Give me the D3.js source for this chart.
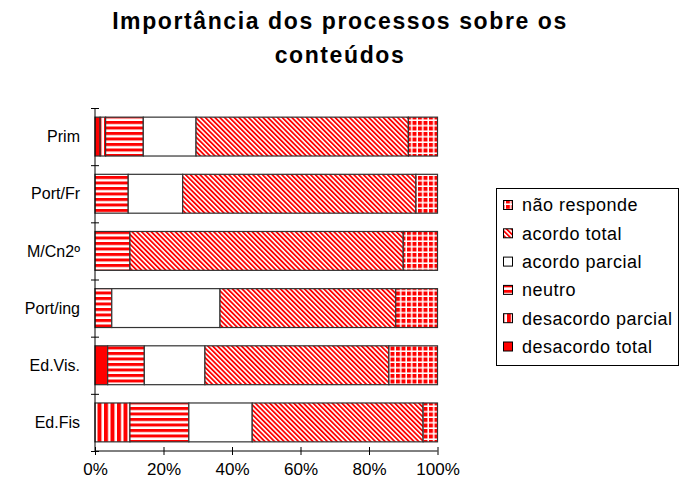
<!DOCTYPE html>
<html>
<head>
<meta charset="utf-8">
<script src="https://cdn.jsdelivr.net/npm/d3@7/dist/d3.min.js"></script>
<style>
  body { margin: 0; background: #fff; }
  svg { display: block; font-family: "Liberation Sans", Arial, sans-serif; }
</style>
</head>
<body>
<svg id="chart" width="680" height="484"></svg>
<script>
// categories, top to bottom
var categories = ["Prim", "Port/Fr", "M/Cn2º", "Port/ing", "Ed.Vis.", "Ed.Fis"];

// series in stacking order (left to right)
var seriesNames = ["desacordo total", "desacordo parcial", "neutro", "acordo parcial", "acordo total", "não responde"];

// percentage values per category, same order as seriesNames
var desacordoTotal   = [1.5, 0, 0, 0, 3.7, 0];
var desacordoParcial = [1.6, 0, 0, 0, 0, 10.2];
var neutro           = [11, 9.7, 10.2, 4.9, 10.7, 17.2];
var acordoParcial    = [15.4, 15.9, 0, 31.6, 17.7, 18.5];
var acordoTotal      = [62, 68.1, 79.8, 51.3, 53.7, 49.9];
var naoResponde      = [8.5, 6.3, 10, 12.2, 14.2, 4.2];

var xTicks = [0, 0.2, 0.4, 0.6, 0.8, 1];
var title = ["Importância dos processos sobre os", "conteúdos"];

var seriesValues = [desacordoTotal, desacordoParcial, neutro, acordoParcial, acordoTotal, naoResponde];
var patternIds = ["p-solid", "p-vert", "p-horiz", "p-white", "p-diag", "p-grid"];

// build table for d3.stack
var table = categories.map(function (c, i) {
  var row = { cat: c };
  seriesNames.forEach(function (s, j) { row[s] = seriesValues[j][i]; });
  return row;
});

var stacked = d3.stack().keys(seriesNames).offset(d3.stackOffsetExpand)(table);

var svg = d3.select("#chart");

// patterns
var defs = svg.append("defs");

var p = defs.append("pattern").attr("id", "p-solid").attr("patternUnits", "userSpaceOnUse")
  .attr("width", 4).attr("height", 4);
p.append("rect").attr("width", 4).attr("height", 4).attr("fill", "#ff0000");

p = defs.append("pattern").attr("id", "p-white").attr("patternUnits", "userSpaceOnUse")
  .attr("width", 4).attr("height", 4);
p.append("rect").attr("width", 4).attr("height", 4).attr("fill", "#ffffff");

p = defs.append("pattern").attr("id", "p-vert").attr("patternUnits", "userSpaceOnUse")
  .attr("width", 6.5).attr("height", 6);
p.append("rect").attr("width", 6.5).attr("height", 6).attr("fill", "#ffffff");
p.append("rect").attr("x", 0).attr("width", 4).attr("height", 6).attr("fill", "#ff0000");

p = defs.append("pattern").attr("id", "p-horiz").attr("patternUnits", "userSpaceOnUse")
  .attr("width", 6).attr("height", 5.5);
p.append("rect").attr("width", 6).attr("height", 5.5).attr("fill", "#ffffff");
p.append("rect").attr("y", 0).attr("width", 6).attr("height", 3).attr("fill", "#ff0000");

p = defs.append("pattern").attr("id", "p-diag").attr("patternUnits", "userSpaceOnUse")
  .attr("width", 3.4).attr("height", 6).attr("patternTransform", "rotate(-45)");
p.append("rect").attr("width", 3.4).attr("height", 6).attr("fill", "#ffffff");
p.append("rect").attr("width", 1.8).attr("height", 6).attr("fill", "#ff0000");

p = defs.append("pattern").attr("id", "p-grid").attr("patternUnits", "userSpaceOnUse")
  .attr("width", 5.5).attr("height", 5.5);
p.append("rect").attr("width", 5.5).attr("height", 5.5).attr("fill", "#ffffff");
p.append("rect").attr("width", 4).attr("height", 4).attr("fill", "#ff0000");

// scales
var x = d3.scaleLinear().domain([0, 1]).range([95, 437.5]);
var y = d3.scaleBand().domain(categories).range([108, 451])
  .paddingInner(0.32).paddingOuter(0.16);
var yIdx = d3.scaleLinear().domain([0, categories.length]).range([108, 451]);

// title
svg.append("g").selectAll("text")
  .data(title)
  .join("text")
  .attr("x", 340)
  .attr("y", function (d, i) { return 29 + i * 34; })
  .attr("text-anchor", "middle")
  .attr("font-size", "23px")
  .attr("font-weight", "bold")
  .attr("letter-spacing", "1.6px")
  .attr("fill", "#000")
  .text(function (d) { return d; });

// bars
var layers = svg.append("g").selectAll("g")
  .data(stacked)
  .join("g")
  .attr("fill", function (d, i) { return "url(#" + patternIds[i] + ")"; });

layers.selectAll("rect")
  .data(function (d) { return d.filter(function (s) { return s[1] - s[0] > 0; }); })
  .join("rect")
  .attr("x", function (d) { return x(d[0]); })
  .attr("width", function (d) { return x(d[1]) - x(d[0]); })
  .attr("y", function (d) { return y(d.data.cat); })
  .attr("height", y.bandwidth())
  .attr("stroke", "#333")
  .attr("stroke-width", 1.2);

// y axis with cross ticks
var yAxis = svg.append("g")
  .attr("transform", "translate(95,0)")
  .call(d3.axisLeft(yIdx).tickValues(d3.range(categories.length + 1)).tickSize(4).tickFormat(""));
yAxis.select(".domain").attr("d", "M0," + yIdx(0) + "V" + yIdx(categories.length)).attr("stroke", "#000");
yAxis.selectAll(".tick line").attr("x1", -4).attr("x2", 4).attr("stroke", "#000");

// category labels
svg.append("g").selectAll("text")
  .data(categories)
  .join("text")
  .attr("x", 80)
  .attr("y", function (d) { return y(d) + y.bandwidth() / 2; })
  .attr("dy", "0.35em")
  .attr("text-anchor", "end")
  .attr("font-size", "16px")
  .attr("fill", "#000")
  .text(function (d) { return d; });

// x axis with cross ticks
var xAxis = svg.append("g")
  .attr("transform", "translate(0,451)")
  .call(d3.axisBottom(x).tickValues(xTicks).tickSize(4).tickFormat(d3.format(".0%")));
xAxis.select(".domain").attr("d", "M" + x(0) + ",0H" + x(1)).attr("stroke", "#000");
xAxis.selectAll(".tick line").attr("y1", -4).attr("y2", 4).attr("stroke", "#000");
xAxis.selectAll(".tick text")
  .attr("y", 12)
  .attr("font-size", "17px")
  .attr("font-family", "Liberation Sans, Arial, sans-serif")
  .attr("fill", "#000");

// legend
var legend = svg.append("g");
legend.append("rect")
  .attr("x", 496.5).attr("y", 188.5)
  .attr("width", 182).attr("height", 177)
  .attr("fill", "#fff").attr("stroke", "#000");

var legendOrder = d3.range(seriesNames.length).reverse();
var items = legend.selectAll("g.item")
  .data(legendOrder)
  .join("g")
  .attr("class", "item")
  .attr("transform", function (d, i) { return "translate(0," + (205 + i * 28.3) + ")"; });

items.append("rect")
  .attr("x", 503.5).attr("y", -4.5)
  .attr("width", 9).attr("height", 9)
  .attr("fill", function (d) { return "url(#" + patternIds[d] + ")"; })
  .attr("stroke", "#000");

items.append("text")
  .attr("x", 522)
  .attr("dy", "0.35em")
  .attr("font-size", "18px")
  .attr("letter-spacing", "0.5px")
  .attr("fill", "#000")
  .text(function (d) { return seriesNames[d]; });
</script>
</body>
</html>
